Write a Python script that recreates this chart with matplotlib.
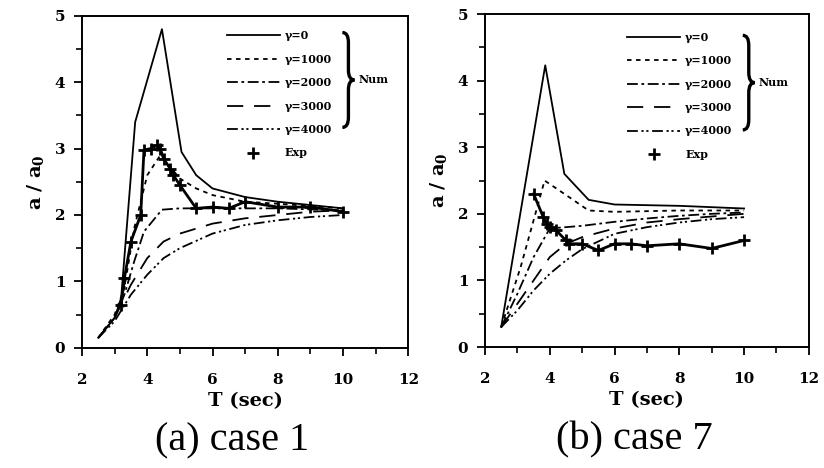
import matplotlib
matplotlib.use("Agg")
import matplotlib.pyplot as plt
from matplotlib.path import Path
from matplotlib.patches import PathPatch

plt.rcParams['mathtext.fontset'] = 'dejavuserif'

# ---- case 1 ----
T1 = [2.5, 3.0, 3.2, 3.63, 4.45, 5.05, 5.5, 6.0, 7.0, 8.0, 9.0, 10.0]
g0_1 = [0.15, 0.45, 0.75, 3.4, 4.8, 2.95, 2.6, 2.4, 2.27, 2.2, 2.15, 2.1]
T1b = [2.5, 3.0, 3.3, 3.6, 4.0, 4.4, 5.0, 5.5, 6.0, 7.0, 8.0, 10.0]
g1000_1 = [0.15, 0.5, 0.9, 1.8, 2.6, 2.9, 2.55, 2.4, 2.3, 2.2, 2.17, 2.1]
T1c = [2.5, 3.0, 3.3, 3.6, 3.9, 4.45, 5.0, 6.0, 8.0, 10.0]
g2000_1 = [0.15, 0.45, 0.8, 1.3, 1.75, 2.08, 2.1, 2.1, 2.1, 2.07]
T1d = [2.5, 3.0, 3.5, 4.0, 4.5, 5.0, 6.0, 7.0, 8.0, 9.0, 10.0]
g3000_1 = [0.15, 0.45, 0.95, 1.35, 1.6, 1.72, 1.87, 1.95, 2.0, 2.05, 2.07]
g4000_1 = [0.15, 0.4, 0.8, 1.1, 1.35, 1.5, 1.72, 1.85, 1.92, 1.97, 2.0]
Texp1 = [3.2, 3.3, 3.5, 3.8, 3.9, 4.1, 4.3, 4.4, 4.5, 4.7, 4.8, 5.0, 5.5,
         6.0, 6.5, 7.0, 8.0, 9.0, 10.0]
exp1 = [0.65, 1.05, 1.6, 2.0, 2.98, 3.0, 3.05, 3.0, 2.85, 2.7, 2.6, 2.45, 2.1,
        2.12, 2.1, 2.2, 2.12, 2.12, 2.05]

# ---- case 7 ----
T7 = [2.5, 3.86, 4.45, 5.2, 6.0, 7.0, 8.0, 9.0, 10.0]
g0_7 = [0.3, 4.23, 2.6, 2.21, 2.14, 2.13, 2.12, 2.1, 2.08]
T7b = [2.5, 3.1, 3.84, 4.6, 5.2, 6.0, 7.0, 8.0, 10.0]
g1000_7 = [0.3, 1.2, 2.5, 2.25, 2.05, 2.03, 2.04, 2.05, 2.05]
T7c = [2.5, 3.0, 3.5, 4.0, 4.5, 5.0, 6.0, 7.0, 8.0, 9.0, 10.0]
g2000_7 = [0.3, 0.8, 1.35, 1.78, 1.8, 1.82, 1.88, 1.93, 1.97, 2.0, 2.02]
g3000_7 = [0.3, 0.65, 1.0, 1.35, 1.55, 1.65, 1.78, 1.87, 1.92, 1.96, 2.0]
g4000_7 = [0.3, 0.55, 0.85, 1.1, 1.3, 1.47, 1.7, 1.8, 1.87, 1.92, 1.95]
Texp7 = [3.5, 3.8, 3.9, 4.0, 4.2, 4.5, 4.6, 5.0, 5.5, 6.0, 6.5, 7.0, 8.0, 9.0, 10.0]
exp7 = [2.3, 1.95, 1.85, 1.8, 1.75, 1.6, 1.55, 1.55, 1.45, 1.55, 1.55, 1.52,
        1.55, 1.48, 1.6]

labels = ['γ=0', 'γ=1000', 'γ=2000', 'γ=3000', 'γ=4000']
styles = ['-', (0, (2.5, 2.5)), (0, (6, 2, 1.5, 2)), (0, (9, 6)),
          (0, (6, 2, 1.2, 1.5, 1.2, 2))]

bold = dict(family='DejaVu Serif', weight='bold')


def brace(ax, x0, x1, y0, y1):
    xm = (x0 + x1) / 2
    ym = (y0 + y1) / 2
    d = 0.03
    verts = [(x0, y1), (xm, y1), (xm, y1 - d),
             (xm, ym + d),
             (xm, ym), (x1, ym),
             (xm, ym), (xm, ym - d),
             (xm, y0 + d),
             (xm, y0), (x0, y0)]
    codes = [Path.MOVETO, Path.CURVE3, Path.CURVE3,
             Path.LINETO,
             Path.CURVE3, Path.CURVE3,
             Path.CURVE3, Path.CURVE3,
             Path.LINETO,
             Path.CURVE3, Path.CURVE3]
    ax.add_patch(PathPatch(Path(verts, codes), fill=False, lw=2.4,
                           color='black', transform=ax.transAxes,
                           clip_on=False))


def panel(ax, series, texp, exp, caption, leg_anchor, br):
    for (t, y), lab, ls in zip(series, labels, styles):
        ax.plot(t, y, color='black', lw=1.3, linestyle=ls, label=lab)
    ax.plot(texp, exp, color='black', lw=2.0)
    ax.plot(texp, exp, color='black', linestyle='none', marker='+',
            markersize=8, mew=2.0, label='Exp')
    ax.set_xlim(2, 12)
    ax.set_ylim(0, 5)
    ax.set_xticks(range(2, 13, 2))
    ax.set_xticks(range(3, 12, 2), minor=True)
    ax.set_yticks(range(0, 6))
    ax.set_yticks([0.5, 1.5, 2.5, 3.5, 4.5], minor=True)
    ax.tick_params(which='major', direction='out', length=6, width=1.3, pad=6)
    ax.tick_params(which='minor', direction='out', length=4, width=1.2)
    ax.tick_params(axis='x', which='major', pad=12)
    for lab in ax.get_xticklabels() + ax.get_yticklabels():
        lab.set_fontfamily('DejaVu Serif')
        lab.set_fontweight('bold')
        lab.set_fontsize(11)
    for s in ax.spines.values():
        s.set_linewidth(1.4)
    ax.set_xlabel('T (sec)', fontsize=14, labelpad=4, **bold)
    ax.set_ylabel(r'$\mathbf{a\ /\ a_0}$', fontsize=14, labelpad=6)
    ax.legend(loc='upper left', bbox_to_anchor=leg_anchor, frameon=False,
              prop=dict(family='DejaVu Serif', weight='bold', size=8),
              handlelength=4.8, handletextpad=0.45, labelspacing=1.12,
              borderpad=0, borderaxespad=0, numpoints=1)
    brace(ax, *br)
    ax.text(br[1] + 0.012, (br[2] + br[3]) / 2, 'Num', transform=ax.transAxes,
            ha='left', va='center', fontsize=8, **bold)
    ax.text(0.46, -0.28, caption, transform=ax.transAxes, ha='center',
            va='center', fontsize=29, family='Liberation Serif')


fig = plt.figure(figsize=(8.24, 4.68), dpi=100)
ax1 = fig.add_axes([0.0995, 0.257, 0.396, 0.709])
ax2 = fig.add_axes([0.5886, 0.2585, 0.393, 0.7115])

panel(ax1, [(T1, g0_1), (T1b, g1000_1), (T1c, g2000_1), (T1d, g3000_1),
            (T1d, g4000_1)], Texp1, exp1, '(a) case 1',
      (0.443, 0.957), (0.798, 0.835, 0.664, 0.95))
panel(ax2, [(T7, g0_7), (T7b, g1000_7), (T7c, g2000_7), (T7c, g3000_7),
            (T7c, g4000_7)], Texp7, exp7, '(b) case 7',
      (0.438, 0.947), (0.796, 0.833, 0.652, 0.936))

fig.savefig('out.png', dpi=100)
